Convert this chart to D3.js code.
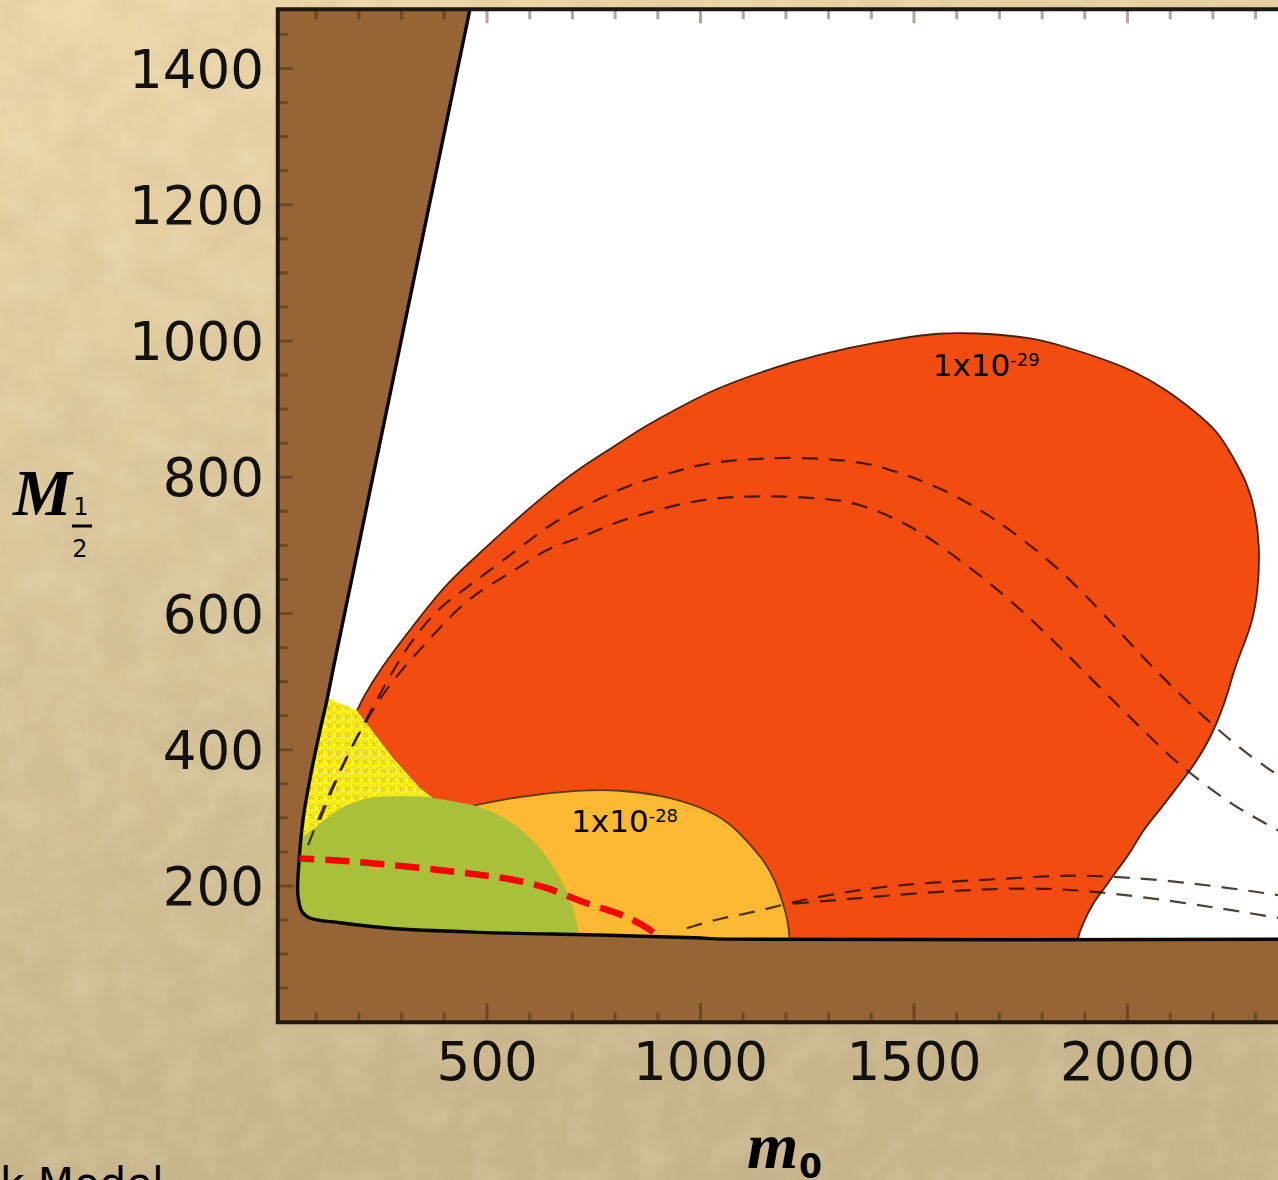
<!DOCTYPE html>
<html>
<head>
<meta charset="utf-8">
<script src="https://cdn.jsdelivr.net/npm/d3@7"></script>
<style>
  html, body { margin: 0; padding: 0; overflow: hidden; background: #d9c498; }
  svg { display: block; }
</style>
</head>
<body>
<svg id="chart" width="1278" height="1180"></svg>
<script>
// ---------- data: (m0, M1/2) pairs in GeV ----------
const xTickLabels = [500, 1000, 1500, 2000];
const yTickLabels = [200, 400, 600, 800, 1000, 1200, 1400];
const xMinorTicks = d3.range(100, 2500, 100);
const yMinorTicks = d3.range(50, 1487, 50);

// edge of the allowed (non-excluded) parameter space
const leftBoundary = [[460,1487],[302,1010],[144,532],[125,473],[104,414],[85,356],[69,297],[60,238],[57,187],[67,162],[85,153]];
const bottomBoundary = [[85,153],[156,146],[273,138],[484,132],[765,128],[987,124],[1060,122],[2500,122]];
const openCorner = [[2500,1487]];

// cross-section regions
const redOuter = [[196,458],[210,477],[249,517],[289,551],[343,595],[406,645],[484,689],[561,734],[641,777],[718,814],[795,844],[875,877],[952,903],[1029,928],[1109,947],[1210,969],[1350,991],[1467,1004],[1561,1012],[1638,1012],[1772,1006],[1858,991],[1936,975],[2013,957],[2092,928],[2153,899],[2210,869],[2247,830],[2280,792],[2299,752],[2310,698],[2306,634],[2292,586],[2270,551],[2247,513],[2233,477],[2193,414],[2153,375],[2116,345],[2076,312],[2036,282],[2006,248],[1975,223],[1943,194],[1919,175],[1896,146],[1882,123],[1876,90]];
const redInner = [[196,458],[280,389],[343,345],[371,331]];
const redBase = [[1876,90],[371,90]];

const yellowRegion = [[110,480],[196,458],[280,389],[343,345],[371,331],[371,253],[39,253]];

const orangeEdge = [[390,309],[460,317],[577,332],[718,341],[811,341],[905,334],[999,317],[1069,294],[1123,256],[1151,235],[1174,209],[1191,179],[1205,150],[1210,113],[1211,90]];
const orangeBase = [[1211,90],[390,90]];

const greenEdge = [[43,260],[69,272],[109,292],[149,312],[186,323],[226,331],[303,332],[366,331],[430,323],[491,316],[537,301],[577,285],[624,257],[659,226],[687,194],[706,162],[718,121],[720,90]];
const greenBase = [[720,90],[43,90]];

// dashed contours
const contourA = [[81,260],[104,297],[139,348],[179,400],[233,463],[289,527],[336,571],[390,610],[444,634],[507,664],[570,693],[631,723],[694,748],[772,771],[835,789],[912,803],[992,818],[1069,825],[1210,830],[1350,825],[1430,815],[1561,786],[1685,742],[1818,679],[1929,610],[2036,535],[2142,469],[2252,407],[2334,370],[2404,341]];
const contourB = [[109,297],[156,370],[214,441],[273,498],[336,542],[390,580],[453,620],[514,645],[577,668],[640,696],[725,712],[795,733],[882,749],[959,762],[1039,770],[1116,772],[1193,772],[1290,769],[1374,762],[1491,730],[1577,693],[1701,634],[1818,566],[1929,495],[2053,419],[2107,385],[2217,331],[2287,304],[2352,282],[2427,256]];
const contourC = [[968,138],[1046,153],[1132,162],[1217,177],[1303,187],[1420,199],[1561,206],[1701,210],[1842,216],[1936,215],[2083,209],[2240,197],[2352,187],[2427,179]];
const contourD = [[1217,174],[1350,181],[1514,190],[1678,196],[1818,197],[1959,190],[2116,177],[2270,162],[2352,153],[2427,147]];
const redContour = [[40,241],[172,237],[327,228],[491,216],[570,209],[648,197],[725,175],[804,162],[875,140],[905,124]];

// region labels
const regionLabels = [
  { base: "1x10", exp: "-29", m0: 1544, m12: 949 },
  { base: "1x10", exp: "-28", m0: 697, m12: 280 }
];

// ---------- scales ----------
const X0 = 10, X1 = 2500, Y0 = 0, Y1 = 1487;
const xScale = d3.scaleLinear().domain([X0, X1]).range([277.8, 1341]);
const yScale = d3.scaleLinear().domain([Y0, Y1]).range([1022.25, 9.25]);

const smooth = d3.line().x(d => xScale(d[0])).y(d => yScale(d[1])).curve(d3.curveCatmullRom.alpha(0.5));
const soft = d3.line().x(d => xScale(d[0])).y(d => yScale(d[1])).curve(d3.curveBasis);
const straight = d3.line().x(d => xScale(d[0])).y(d => yScale(d[1]));
const cont = pts => straight(pts).replace(/^M/, "L");

const svg = d3.select("#chart");
const defs = svg.append("defs");

// parchment background
const grad = defs.append("linearGradient").attr("id", "parchment")
  .attr("x1", 0).attr("y1", 0).attr("x2", 0.2).attr("y2", 1);
grad.append("stop").attr("offset", 0).attr("stop-color", "#eed7a9");
grad.append("stop").attr("offset", 0.45).attr("stop-color", "#dcc79b");
grad.append("stop").attr("offset", 1).attr("stop-color", "#c9b58b");

const darkNoise = defs.append("filter").attr("id", "darkNoise").attr("x", 0).attr("y", 0).attr("width", "100%").attr("height", "100%");
darkNoise.append("feTurbulence").attr("type", "fractalNoise").attr("baseFrequency", 0.02).attr("numOctaves", 4).attr("seed", 11);
darkNoise.append("feColorMatrix").attr("type", "matrix")
  .attr("values", "0 0 0 0 0.45  0 0 0 0 0.36  0 0 0 0 0.22  1.6 0 0 0 -0.62");
const lightNoise = defs.append("filter").attr("id", "lightNoise").attr("x", 0).attr("y", 0).attr("width", "100%").attr("height", "100%");
lightNoise.append("feTurbulence").attr("type", "fractalNoise").attr("baseFrequency", 0.03).attr("numOctaves", 3).attr("seed", 4);
lightNoise.append("feColorMatrix").attr("type", "matrix")
  .attr("values", "0 0 0 0 1  0 0 0 0 0.97  0 0 0 0 0.88  -1.6 0 0 0 0.95");

svg.append("rect").attr("width", 1278).attr("height", 1180).attr("fill", "url(#parchment)");
svg.append("rect").attr("width", 1278).attr("height", 1180).attr("filter", "url(#darkNoise)").attr("opacity", 0.2);
svg.append("rect").attr("width", 1278).attr("height", 1180).attr("filter", "url(#lightNoise)").attr("opacity", 0.18);

// speckled yellow fill
const pat = defs.append("pattern").attr("id", "speckle").attr("patternUnits", "userSpaceOnUse").attr("width", 9).attr("height", 9);
pat.append("rect").attr("width", 9).attr("height", 9).attr("fill", "#fff400");
[[1,1,2,2,"#ffd61a"],[5,0,3,3,"#ffe94a"],[3,4,3,2,"#fbc31e"],[0,6,2,2,"#fffa9a"],[6,5,2,3,"#ffd400"],[4,7,1,1,"#a4a01c"],[7,3,1,1,"#c0aa1e"],[2,3,1,1,"#fff6b0"]]
  .forEach(r => pat.append("rect").attr("x", r[0]).attr("y", r[1]).attr("width", r[2]).attr("height", r[3]).attr("fill", r[4]));

// allowed region path
const allowedEdge = leftBoundary.concat(bottomBoundary.slice(1));
const allowedPath = smooth(allowedEdge) + cont(openCorner) + "Z";
defs.append("clipPath").attr("id", "allowedClip").append("path").attr("d", allowedPath);

// plot body: excluded (brown) underneath, allowed (white) on top
svg.append("rect")
  .attr("x", xScale(X0)).attr("y", yScale(Y1))
  .attr("width", xScale(X1) - xScale(X0)).attr("height", yScale(Y0) - yScale(Y1))
  .attr("fill", "#976436");
svg.append("path").attr("d", allowedPath).attr("fill", "#ffffff");

const regions = svg.append("g").attr("clip-path", "url(#allowedClip)");

regions.append("path").attr("d", straight(yellowRegion) + "Z").attr("fill", "url(#speckle)");

regions.append("path")
  .attr("d", soft(redOuter) + cont(redBase) + cont(redInner.slice().reverse()) + "Z")
  .attr("fill", "#f24c10");
regions.append("path").attr("d", soft(redOuter)).attr("fill", "none")
  .attr("stroke", "#4a200c").attr("stroke-width", 1.8);
regions.append("path").attr("d", straight(redInner)).attr("fill", "none")
  .attr("stroke", "#8a5a10").attr("stroke-width", 1.2).attr("opacity", 0.7);

regions.append("path").attr("d", soft(orangeEdge) + cont(orangeBase) + "Z").attr("fill", "#feb933");
regions.append("path").attr("d", soft(orangeEdge.slice(1))).attr("fill", "none")
  .attr("stroke", "#5e3a0e").attr("stroke-width", 1.8);

regions.append("path").attr("d", soft(greenEdge) + cont(greenBase) + "Z").attr("fill", "#a8c03a");

const dashed = regions.append("g").attr("fill", "none")
  .attr("stroke", "#1a0a00").attr("stroke-width", 2.2).attr("stroke-opacity", 0.78)
  .attr("stroke-dasharray", "16,11");
[contourA, contourB, contourC, contourD].forEach(c => dashed.append("path").attr("d", soft(c)));

// boundary of the excluded region
svg.append("path").attr("d", smooth(allowedEdge)).attr("fill", "none")
  .attr("stroke", "#050505").attr("stroke-width", 3.4);

// red dashed contour, drawn over the boundary line
svg.append("path").attr("d", soft(redContour)).attr("fill", "none")
  .attr("clip-path", "url(#allowedClip)")
  .attr("stroke", "#ff0000").attr("stroke-width", 6.5).attr("stroke-dasharray", "24,11");

// ticks (drawn inward from the frame)
const ticks = svg.append("g").attr("stroke", "#2a1505").attr("stroke-opacity", 0.38).attr("stroke-width", 3);
const yB = yScale(Y0), yT = yScale(Y1), xL = xScale(X0);
xMinorTicks.forEach(v => {
  const major = v % 500 === 0;
  ticks.append("line").attr("x1", xScale(v)).attr("x2", xScale(v)).attr("y1", yB).attr("y2", yB - (major ? 19 : 10));
  ticks.append("line").attr("x1", xScale(v)).attr("x2", xScale(v)).attr("y1", yT).attr("y2", yT + (major ? 14 : 10));
});
yMinorTicks.forEach(v => {
  const major = v % 200 === 0;
  ticks.append("line").attr("x1", xL).attr("x2", xL + (major ? 15 : 10)).attr("y1", yScale(v)).attr("y2", yScale(v));
});

// frame
svg.append("rect")
  .attr("x", xScale(X0)).attr("y", yScale(Y1))
  .attr("width", xScale(X1) - xScale(X0)).attr("height", yScale(Y0) - yScale(Y1))
  .attr("fill", "none").attr("stroke", "#1f1711").attr("stroke-width", 4);

// tick labels
const labelFont = "'DejaVu Sans', sans-serif";
svg.append("g").selectAll("text").data(yTickLabels).join("text")
  .attr("x", 264).attr("y", d => yScale(d) + 19)
  .attr("text-anchor", "end").attr("font-family", labelFont).attr("font-size", 53).attr("fill", "#111")
  .text(d => d);
svg.append("g").selectAll("text").data(xTickLabels).join("text")
  .attr("x", d => xScale(d)).attr("y", 1080)
  .attr("text-anchor", "middle").attr("font-family", labelFont).attr("font-size", 53).attr("fill", "#111")
  .text(d => d);

// axis titles
const titleFont = "'Liberation Serif', serif";
svg.append("text").attr("x", 13).attr("y", 515)
  .attr("font-family", titleFont).attr("font-style", "italic").attr("font-weight", "bold")
  .attr("font-size", 66).attr("fill", "#000").text("M");
svg.append("text").attr("x", 81).attr("y", 515).attr("text-anchor", "middle")
  .attr("font-family", labelFont).attr("font-size", 24).attr("fill", "#000").text("1");
svg.append("line").attr("x1", 72).attr("x2", 92).attr("y1", 526).attr("y2", 526)
  .attr("stroke", "#000").attr("stroke-width", 3);
svg.append("text").attr("x", 80).attr("y", 557).attr("text-anchor", "middle")
  .attr("font-family", labelFont).attr("font-size", 24).attr("fill", "#000").text("2");

svg.append("text").attr("x", 747).attr("y", 1168)
  .attr("font-family", titleFont).attr("font-style", "italic").attr("font-weight", "bold")
  .attr("font-size", 66).attr("fill", "#000").text("m");
svg.append("text").attr("x", 799).attr("y", 1178)
  .attr("font-family", labelFont).attr("font-weight", "bold").attr("font-size", 33).attr("fill", "#000").text("0");

// region labels
regionLabels.forEach(l => {
  const t = svg.append("text").attr("x", xScale(l.m0)).attr("y", yScale(l.m12))
    .attr("font-family", labelFont).attr("font-size", 31).attr("fill", "#000");
  t.append("tspan").text(l.base);
  t.append("tspan").attr("dy", -10).attr("font-size", 18).text(l.exp);
});

// model caption (runs off the bottom-left edge)
svg.append("text").attr("x", 0).attr("y", 1198)
  .attr("font-family", labelFont).attr("font-size", 42).attr("fill", "#000").text("k Model");
</script>
</body>
</html>
